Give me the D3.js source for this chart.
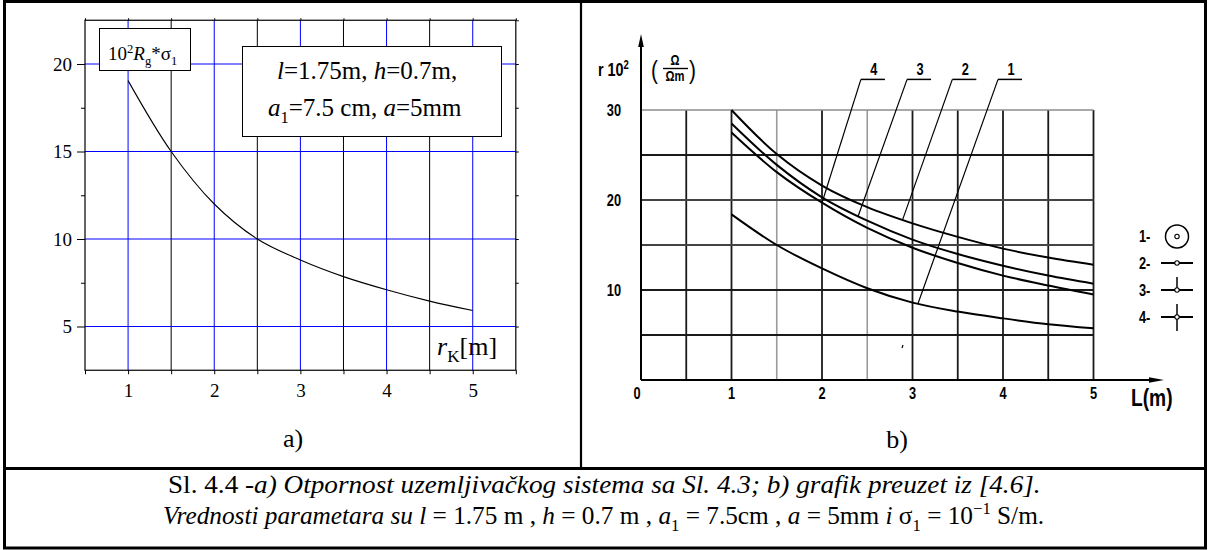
<!DOCTYPE html>
<html>
<head>
<meta charset="utf-8">
<script src="https://cdn.jsdelivr.net/npm/d3@7"></script>
<style>
  html, body { margin: 0; padding: 0; background: #fff; }
  svg { display: block; }
</style>
</head>
<body>
<svg id="fig" width="1209" height="550"></svg>
<script>
// ---- Panel a: grounding-system resistance vs. r_K ----
const rK      = [1, 1.5, 2, 2.5, 3, 3.5, 4, 4.5, 5];
const rgSigma = [19.05, 15.0, 12.0, 10.0, 8.8, 7.85, 7.1, 6.45, 5.91];
const aXTicks = [1, 2, 3, 4, 5];
const aYTicks = [5, 10, 15, 20];

// ---- Panel b: r·10² vs. L for four electrode layouts ----
const lenL   = [1, 1.5, 2, 2.5, 3, 3.5, 4, 4.5, 5];
const curve1 = [18.4, 15.0, 12.4, 10.2, 8.6, 7.6, 6.85, 6.2, 5.75];
const curve2 = [30.0, 25.1, 21.6, 19.2, 17.4, 15.9, 14.6, 13.6, 12.8];
const curve3 = [28.5, 23.9, 20.3, 17.7, 15.6, 14.0, 12.7, 11.6, 10.7];
const curve4 = [27.5, 23.1, 19.7, 16.9, 14.7, 13.0, 11.6, 10.5, 9.5];
const bXTicks = [0, 1, 2, 3, 4, 5];
const bYTicks = [10, 20, 30];
const curveIds = ["1", "2", "3", "4"];
// where each numbered leader touches its curve, and where its label sits
const leaderAt   = [3.06, 2.89, 2.4, 2.0];
const leaderTopL = [3.945, 3.44, 2.94, 2.43];
const leaderTopV = 33.4;

const SERIF = "'Liberation Serif', 'Times New Roman', serif";
const SANS = "'Liberation Sans', Arial, sans-serif";
const NARROW = 0.8;   // horizontal squeeze for the condensed sans lettering

const svg = d3.select("#fig");

// rich text: parts = [[text, flags]] with flags among i (italic), sub, sup
function rich(sel, parts, size) {
  let shift = 0;
  parts.forEach(([t, f = ""]) => {
    const ts = sel.append("tspan").text(t);
    let target = 0;
    if (f.includes("sub")) { target = 0.28 * size; ts.style("font-size", (0.66 * size) + "px"); }
    if (f.includes("sup")) { target = -0.38 * size; ts.style("font-size", (0.66 * size) + "px"); }
    if (f.includes("i")) ts.style("font-style", "italic");
    if (target !== shift) { ts.attr("dy", target - shift); shift = target; }
  });
  return sel;
}
function serifText(parent, x, y, size) {
  return parent.append("text").attr("x", x).attr("y", y)
    .style("font-family", SERIF).style("font-size", size + "px").style("fill", "#000");
}
// condensed bold sans text, squeezed horizontally about its anchor point
function narrowText(parent, x, y, size, anchor = "start", weight = "bold") {
  return parent.append("text")
    .attr("transform", `translate(${x},${y}) scale(${NARROW},1)`)
    .attr("text-anchor", anchor)
    .style("font-family", SANS).style("font-weight", weight)
    .style("font-size", size + "px").style("fill", "#000");
}

// ================= Frame =================
const frame = svg.append("g").attr("fill", "none").attr("stroke", "#000");
frame.append("rect").attr("x", 4.5).attr("y", 1.5).attr("width", 1201).attr("height", 546.5).attr("stroke-width", 3);
frame.append("line").attr("x1", 4.5).attr("x2", 1205.5).attr("y1", 468.5).attr("y2", 468.5).attr("stroke-width", 3);
frame.append("line").attr("x1", 581).attr("x2", 581).attr("y1", 1.5).attr("y2", 468.5).attr("stroke-width", 2.2);

// ================= Panel a =================
const xa = d3.scaleLinear().domain([0.5, 5.5]).range([85, 515.8]);
const ya = d3.scaleLinear().domain([2.5, 22.5]).range([370.25, 20.25]);
const ga = svg.append("g");

const halfSteps = d3.range(1, 5.01, 0.5);
ga.append("g").selectAll("line").data(halfSteps).join("line")
  .attr("x1", d => xa(d)).attr("x2", d => xa(d))
  .attr("y1", ya(22.5)).attr("y2", ya(2.5))
  .attr("stroke", d => Number.isInteger(d) ? "#0000ff" : "#000")
  .attr("stroke-width", 1);
ga.append("g").selectAll("line").data(aYTicks).join("line")
  .attr("x1", xa(0.5)).attr("x2", xa(5.5))
  .attr("y1", d => ya(d)).attr("y2", d => ya(d))
  .attr("stroke", "#0000ff").attr("stroke-width", 1);

function styleAxis(g) {
  g.select(".domain").remove();
  g.selectAll(".tick line").attr("stroke", "#000").attr("stroke-width", 1);
  g.selectAll("text").style("font-family", SERIF).style("font-size", "19px").style("fill", "#000");
}
// left axis: labelled majors and short minors
ga.append("g").attr("transform", `translate(${xa(0.5)},0)`)
  .call(d3.axisLeft(ya).tickValues(aYTicks).tickSize(8).tickPadding(5).tickSizeOuter(0))
  .call(styleAxis);
ga.append("g").attr("transform", `translate(${xa(0.5)},0)`)
  .call(d3.axisLeft(ya).tickValues([7.5, 12.5, 17.5]).tickSize(4).tickFormat("").tickSizeOuter(0))
  .call(styleAxis);
// right axis
ga.append("g").attr("transform", `translate(${xa(5.5)},0)`)
  .call(d3.axisRight(ya).tickValues(d3.range(5, 22.6, 2.5)).tickSize(3).tickFormat("").tickSizeOuter(0))
  .call(styleAxis);
// bottom axis
ga.append("g").attr("transform", `translate(0,${ya(2.5)})`)
  .call(d3.axisBottom(xa).tickValues(d3.range(0.5, 5.51, 0.5)).tickSize(4).tickPadding(9)
    .tickFormat(d => aXTicks.includes(d) ? d : "").tickSizeOuter(0))
  .call(styleAxis);
// top axis
ga.append("g").attr("transform", `translate(0,${ya(22.5)})`)
  .call(d3.axisTop(xa).tickValues(d3.range(0.5, 5.51, 0.5)).tickSize(2).tickFormat("").tickSizeOuter(0))
  .call(styleAxis);
// plot frame
ga.append("rect").attr("x", xa(0.5)).attr("y", ya(22.5))
  .attr("width", xa(5.5) - xa(0.5)).attr("height", ya(2.5) - ya(22.5))
  .attr("fill", "none").attr("stroke", "#000").attr("stroke-width", 1.2);

// resistance curve
ga.append("path")
  .datum(rK.map((x, i) => [x, rgSigma[i]]))
  .attr("fill", "none").attr("stroke", "#000").attr("stroke-width", 1.1)
  .attr("d", d3.line().x(d => xa(d[0])).y(d => ya(d[1])).curve(d3.curveCatmullRom));

// quantity label box
ga.append("rect").attr("x", 99.5).attr("y", 28.5).attr("width", 91).attr("height", 42)
  .attr("fill", "#fff").attr("stroke", "#000").attr("stroke-width", 1);
rich(serifText(ga, 108, 60, 19),
  [["10"], ["2", "sup"], ["R", "i"], ["g", "sub"], ["*σ"], ["1", "sub"]], 19);

// parameter box
ga.append("rect").attr("x", 242.5).attr("y", 46.5).attr("width", 259).attr("height", 90)
  .attr("fill", "#fff").attr("stroke", "#000").attr("stroke-width", 1);
rich(serifText(ga, 277, 79, 25), [["l", "i"], ["=1.75m, "], ["h", "i"], ["=0.7m,"]], 25);
rich(serifText(ga, 268, 116, 25), [["a", "i"], ["1", "sub"], ["=7.5 cm, "], ["a", "i"], ["=5mm"]], 25);

// axis title
rich(serifText(ga, 437, 355, 26), [["r", "i"], ["K", "sub"], ["[m]"]], 26);

serifText(ga, 293, 447, 26).attr("text-anchor", "middle").text("a)");

// ================= Panel b =================
const xb = d3.scaleLinear().domain([0, 5]).range([641, 1093.5]);
const yb = d3.scaleLinear().domain([0, 30]).range([380, 110]);
const gb = svg.append("g");

const grayV = [1.5, 2.5];
gb.append("g").selectAll("line").data(d3.range(0.5, 5.01, 0.5)).join("line")
  .attr("x1", d => xb(d)).attr("x2", d => xb(d))
  .attr("y1", yb(30)).attr("y2", yb(0))
  .attr("stroke", d => grayV.includes(d) ? "#9a9a9a" : "#1a1a1a")
  .attr("stroke-width", d => grayV.includes(d) ? 1.6 : 1.8);
const hShade = { 30: "#8c8c8c", 20: "#444", 15: "#444" };
gb.append("g").selectAll("line").data(d3.range(5, 30.1, 5)).join("line")
  .attr("x1", xb(0)).attr("x2", xb(5))
  .attr("y1", d => yb(d)).attr("y2", d => yb(d))
  .attr("stroke", d => hShade[d] || "#1a1a1a")
  .attr("stroke-width", d => d === 30 ? 1.5 : 1.9);

// axes with arrows
gb.append("line").attr("x1", xb(0)).attr("x2", xb(0)).attr("y1", yb(0)).attr("y2", 44)
  .attr("stroke", "#000").attr("stroke-width", 2);
gb.append("path").attr("d", `M${xb(0)},34 L${xb(0) - 2.8},47 L${xb(0) + 2.8},47 Z`).attr("fill", "#000");
gb.append("line").attr("x1", xb(0)).attr("x2", 1152).attr("y1", yb(0)).attr("y2", yb(0))
  .attr("stroke", "#000").attr("stroke-width", 2);
gb.append("path").attr("d", `M1164,${yb(0)} L1149,${yb(0) - 2.8} L1149,${yb(0) + 2.8} Z`).attr("fill", "#000");

bXTicks.forEach(d => narrowText(gb, xb(d) - (d === 0 ? 4 : 0), 399, 16, "middle").text(d));
bYTicks.forEach(d => narrowText(gb, 621, yb(d) + 5.5, 16, "end").text(d));

// axis titles
rich(narrowText(gb, 598, 76, 18), [["r 10"], ["2", "sup"]], 18);
narrowText(gb, 651, 79, 26, "start", "normal").text("(");
narrowText(gb, 675, 65, 14, "middle").text("Ω");
gb.append("line").attr("x1", 663).attr("x2", 688).attr("y1", 68.5).attr("y2", 68.5).attr("stroke", "#000").attr("stroke-width", 1.4);
narrowText(gb, 675, 81, 14, "middle").text("Ωm");
narrowText(gb, 689, 79, 26, "start", "normal").text(")");
narrowText(gb, 1131, 406, 24, "start", "bold").text("L(m)");

// the four curves
const series = [curve1, curve2, curve3, curve4];
const lineB = d3.line().x(d => xb(d[0])).y(d => yb(d[1])).curve(d3.curveCatmullRom);
gb.append("g").selectAll("path").data(series).join("path")
  .attr("fill", "none").attr("stroke", "#000").attr("stroke-width", 2)
  .attr("d", s => lineB(lenL.map((x, i) => [x, s[i]])));

// numbered leader lines
const leaders = curveIds.map((id, i) => {
  const v = d3.scaleLinear().domain(lenL).range(series[i])(leaderAt[i]);
  return { id, x0: xb(leaderTopL[i]), y0: yb(leaderTopV), x1: xb(leaderAt[i]), y1: yb(v) };
});
const lg = gb.append("g");
lg.selectAll("line.lead").data(leaders).join("line").attr("class", "lead")
  .attr("x1", d => d.x0).attr("y1", d => d.y0).attr("x2", d => d.x1).attr("y2", d => d.y1)
  .attr("stroke", "#000").attr("stroke-width", 1.2);
lg.selectAll("line.under").data(leaders).join("line").attr("class", "under")
  .attr("x1", d => d.x0).attr("y1", d => d.y0).attr("x2", d => d.x0 + 24).attr("y2", d => d.y0)
  .attr("stroke", "#000").attr("stroke-width", 1.5);
leaders.forEach(d => narrowText(lg, d.x0 + 13, d.y0 - 4, 16, "middle").text(d.id));

// stray tick mark below the curves
gb.append("line").attr("x1", 903).attr("y1", 345).attr("x2", 902).attr("y2", 348)
  .attr("stroke", "#000").attr("stroke-width", 1.2);

// legend of electrode layouts
const legY = [236, 263, 290, 317];
curveIds.forEach((id, i) => {
  const g = gb.append("g").attr("transform", `translate(0,${legY[i]})`);
  narrowText(g, 1139, 5.5, 16).text(id + "-");
  const cx = 1177;
  if (i === 0) {
    g.append("circle").attr("cx", cx).attr("cy", 0.5).attr("r", 11.5).attr("fill", "none").attr("stroke", "#000").attr("stroke-width", 1.5);
  } else {
    g.append("line").attr("x1", 1161).attr("x2", 1193).attr("y1", 0).attr("y2", 0).attr("stroke", "#000").attr("stroke-width", 2);
    if (i === 2) g.append("line").attr("x1", cx).attr("x2", cx).attr("y1", -13).attr("y2", 0).attr("stroke", "#000").attr("stroke-width", 1.5);
    if (i === 3) g.append("line").attr("x1", cx).attr("x2", cx).attr("y1", -13).attr("y2", 14).attr("stroke", "#000").attr("stroke-width", 1.5);
  }
  g.append("circle").attr("cx", cx).attr("cy", i === 0 ? 0.5 : 0).attr("r", 2.2).attr("fill", "#fff").attr("stroke", "#000").attr("stroke-width", 1.1);
});

serifText(gb, 897, 448, 26).attr("text-anchor", "middle").text("b)");

// ================= Caption =================
function captionLine(parts, y, x0, x1) {
  const t = serifText(svg, 0, y, 25);
  rich(t, parts, 25);
  const w = t.node().getComputedTextLength();
  t.attr("transform", `translate(${x0},0) scale(${(x1 - x0) / w},1)`);
}
captionLine([["Sl. 4.4 -"], ["a) Otpornost uzemljivačkog sistema sa Sl. 4.3; b) grafik preuzet iz [4.6].", "i"]], 493, 168, 1041);
captionLine([
  ["Vrednosti parametara su ", "i"], ["l", "i"], [" = 1.75 m , "], ["h", "i"], [" = 0.7 m , "],
  ["a", "i"], ["1", "sub"], [" = 7.5cm , "], ["a", "i"], [" = 5mm "], ["i", "i"], [" σ"], ["1", "sub"],
  [" = 10"], ["−1", "sup"], [" S/m."]
], 524, 163, 1045);
</script>
</body>
</html>
